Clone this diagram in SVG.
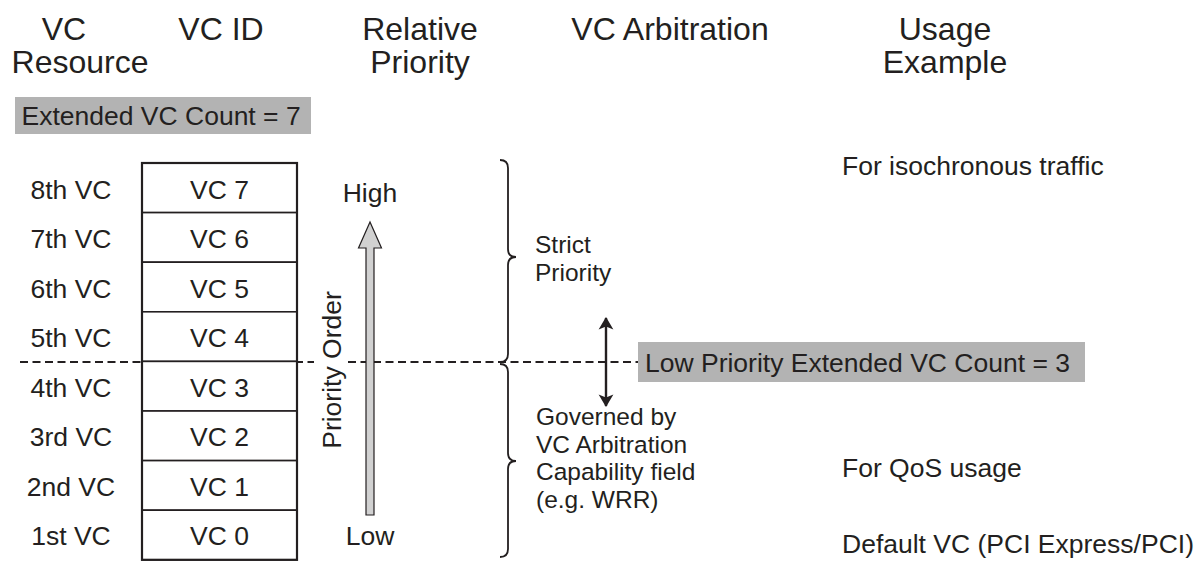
<svg xmlns="http://www.w3.org/2000/svg" width="1199" height="563" viewBox="0 0 1199 563">
<style>
text{font-family:"Liberation Sans",Arial,sans-serif;fill:#231f20}
.h{font-size:32px;text-anchor:middle}
.t{font-size:26.5px}
.m{font-size:24.5px}
.c{text-anchor:middle}
.cell{fill:#fff;stroke:#231f20;stroke-width:1.6}
.band{fill:#b3b3b3}
.dash{stroke:#231f20;stroke-width:2;stroke-dasharray:8 4.5;fill:none}
.brace{fill:none;stroke:#231f20;stroke-width:1.8}
</style>
<defs>
<marker id="ah" viewBox="0 0 12 18" refX="11" refY="9" markerWidth="13" markerHeight="19" markerUnits="userSpaceOnUse" orient="auto">
<path d="M0,2 L12,9 L0,16 L3,9 Z" fill="#231f20"/>
</marker>
</defs>
<rect width="1199" height="563" fill="#fff"/>
<g id="headers">
<text class="h" x="64" y="40">VC</text>
<text class="h" x="80" y="73">Resource</text>
<text class="h" x="221" y="40">VC ID</text>
<text class="h" x="420" y="40">Relative</text>
<text class="h" x="420" y="73">Priority</text>
<text class="h" x="670" y="40">VC Arbitration</text>
<text class="h" x="945" y="40">Usage</text>
<text class="h" x="945" y="73">Example</text>
</g>
<g id="ext-count">
<rect class="band" x="15" y="97" width="296" height="37"/>
<text class="t" x="21.5" y="125">Extended VC Count = 7</text>
</g>
<g id="connectors">
<line class="dash" x1="20" y1="362" x2="314" y2="362"/>
<line class="dash" x1="348" y1="362" x2="638" y2="362"/>
<path class="brace" d="M500,160 Q508,160 508,168 L508,249 Q508,257 516,257 Q508,257 508,265 L508,354 Q508,362 500,362"/>
<path class="brace" d="M500,364 Q508,364 508,372 L508,453 Q508,461 516,461 Q508,461 508,469 L508,549 Q508,557 500,557"/>
<line x1="606" y1="362" x2="606" y2="318" stroke="#231f20" stroke-width="2.4" marker-end="url(#ah)"/>
<line x1="606" y1="362" x2="606" y2="406" stroke="#231f20" stroke-width="2.4" marker-end="url(#ah)"/>
</g>
<g id="vc-table">
<rect class="cell" x="142" y="163" width="155" height="49.6"/>
<rect class="cell" x="142" y="212.6" width="155" height="49.6"/>
<rect class="cell" x="142" y="262.2" width="155" height="49.6"/>
<rect class="cell" x="142" y="311.8" width="155" height="49.6"/>
<rect class="cell" x="142" y="361.4" width="155" height="49.6"/>
<rect class="cell" x="142" y="411" width="155" height="49.6"/>
<rect class="cell" x="142" y="460.6" width="155" height="49.6"/>
<rect class="cell" x="142" y="510.2" width="155" height="49.6"/>
<rect x="142" y="163" width="155" height="396.8" fill="none" stroke="#231f20" stroke-width="2.2"/>
</g>
<g id="vc-rows">
<text class="t c" x="71" y="199">8th VC</text><text class="t c" x="219.5" y="199">VC 7</text>
<text class="t c" x="71" y="248">7th VC</text><text class="t c" x="219.5" y="248">VC 6</text>
<text class="t c" x="71" y="298">6th VC</text><text class="t c" x="219.5" y="298">VC 5</text>
<text class="t c" x="71" y="347">5th VC</text><text class="t c" x="219.5" y="347">VC 4</text>
<text class="t c" x="71" y="397">4th VC</text><text class="t c" x="219.5" y="397">VC 3</text>
<text class="t c" x="71" y="446">3rd VC</text><text class="t c" x="219.5" y="446">VC 2</text>
<text class="t c" x="71" y="496">2nd VC</text><text class="t c" x="219.5" y="496">VC 1</text>
<text class="t c" x="71" y="545">1st VC</text><text class="t c" x="219.5" y="545">VC 0</text>
</g>
<g id="priority">
<path d="M366,515 L366,248 L358.5,248 L370,222 L381.5,248 L374,248 L374,515 Z" fill="#d1d1d1" stroke="#231f20" stroke-width="1.2"/>
<text class="t c" x="370" y="202">High</text>
<text class="t c" x="370" y="545">Low</text>
<text class="t c" transform="translate(341,370) rotate(-90)" x="0" y="0">Priority Order</text>
</g>
<g id="arbitration">
<text class="m" x="535" y="253">Strict</text>
<text class="m" x="535" y="280.5">Priority</text>
<text class="m" x="536" y="425">Governed by</text>
<text class="m" x="536" y="452.5">VC Arbitration</text>
<text class="m" x="536" y="480">Capability field</text>
<text class="m" x="536" y="507.5">(e.g. WRR)</text>
</g>
<g id="low-count">
<rect class="band" x="638" y="342" width="447" height="40"/>
<text class="t" x="645" y="372">Low Priority Extended VC Count = 3</text>
</g>
<g id="usage">
<text class="t" x="842" y="175">For isochronous traffic</text>
<text class="t" x="842" y="477">For QoS usage</text>
<text class="t" x="842" y="553">Default VC (PCI Express/PCI)</text>
</g>
</svg>
